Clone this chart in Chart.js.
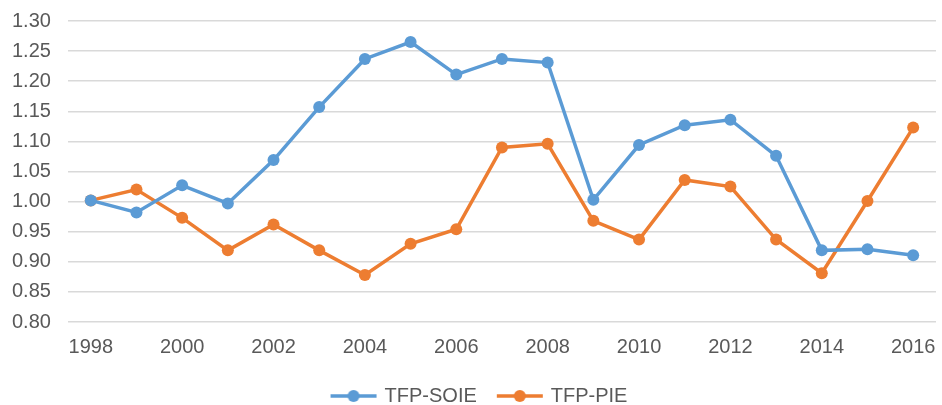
<!DOCTYPE html>
<html><head><meta charset="utf-8">
<script src="https://cdn.jsdelivr.net/npm/chart.js@4"></script>
<style>html,body{margin:0;padding:0;background:#fff}#wrap{width:942px;height:405px}</style>
</head><body><div id="wrap"><canvas id="c" width="942" height="405"></canvas></div>
<script>
const years = ["1998","1999","2000","2001","2002","2003","2004","2005","2006","2007","2008","2009","2010","2011","2012","2013","2014","2015","2016"];
const tfpSOIE = [1.002,0.982,1.027,0.997,1.069,1.157,1.237,1.265,1.211,1.237,1.231,1.003,1.094,1.127,1.136,1.076,0.919,0.921,0.911];
const tfpPIE  = [1.002,1.020,0.973,0.919,0.962,0.919,0.878,0.930,0.954,1.090,1.096,0.968,0.937,1.036,1.025,0.937,0.881,1.001,1.123];
const yTickValues = [0.80,0.85,0.90,0.95,1.00,1.05,1.10,1.15,1.20,1.25,1.30];
const BLUE = '#5B9BD5', ORANGE = '#ED7D31';

function legendIcon(color){
  const cv = document.createElement('canvas');
  cv.width = 48; cv.height = 14;
  const g = cv.getContext('2d');
  g.strokeStyle = color; g.lineWidth = 3.5;
  g.beginPath(); g.moveTo(1,7); g.lineTo(47,7); g.stroke();
  g.fillStyle = color; g.beginPath(); g.arc(24,7,6,0,Math.PI*2); g.fill();
  return cv;
}

const legendShift = {
  id:'legendShift',
  afterLayout(chart){ if (chart.legend){ chart.legend.left += 14; chart.legend.right += 14; } }
};

const font = {family:'"Liberation Sans", Arial, sans-serif', size:20};
const yFont = {family:'"Liberation Sans", Arial, sans-serif', size:20, lineHeight:0.4};
new Chart(document.getElementById('c'), {
  type:'line',
  plugins:[legendShift],
  data:{labels:years, datasets:[
    {label:'TFP-SOIE', data:tfpSOIE, borderColor:BLUE, backgroundColor:BLUE, borderWidth:3.5, pointRadius:6, pointHoverRadius:6, pointBackgroundColor:BLUE, pointBorderWidth:0, tension:0, pointStyle:'circle'},
    {label:'TFP-PIE', data:tfpPIE, borderColor:ORANGE, backgroundColor:ORANGE, borderWidth:3.5, pointRadius:6, pointHoverRadius:6, pointBackgroundColor:ORANGE, pointBorderWidth:0, tension:0, pointStyle:'circle'}
  ]},
  options:{
    responsive:false, animation:false,
    layout:{padding:{top:-8,right:5,left:-5,bottom:-11}},
    plugins:{
      tooltip:{enabled:false},
      legend:{position:'bottom', labels:{
        color:'#595959', font:font, padding:22,
        usePointStyle:true, pointStyleWidth:42,
        generateLabels(chart){
          return chart.data.datasets.map((ds,i)=>({text:ds.label, fillStyle:ds.borderColor, strokeStyle:ds.borderColor, pointStyle:legendIcon(ds.borderColor), fontColor:'#595959', datasetIndex:i, hidden:false, lineWidth:0}));
        }
      }}
    },
    scales:{
      x:{offset:true, grid:{display:false}, border:{display:false},
         ticks:{color:'#595959', font:font, maxRotation:0, autoSkip:false, padding:5,
           callback(v,i){ return i%2===0 ? years[i] : ''; }}},
      y:{min:0.8, max:1.3, grid:{color:'#d9d9d9', lineWidth:1.5, drawTicks:false}, border:{display:false},
         afterBuildTicks(ax){ ax.ticks = yTickValues.map(v=>({value:v})); },
         ticks:{color:'#595959', font:yFont, padding:17, autoSkip:false, callback(v){ return Number(v).toFixed(2); }}}
    }
  }
});
</script></body></html>
